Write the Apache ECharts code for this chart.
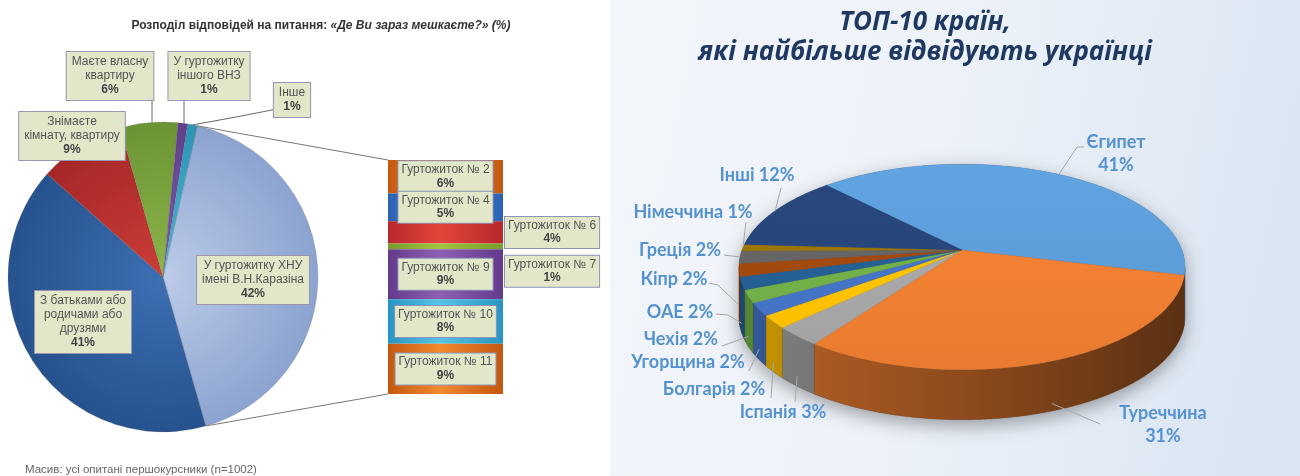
<!DOCTYPE html>
<html><head><meta charset="utf-8">
<script src="https://cdn.jsdelivr.net/npm/echarts@6/dist/echarts.min.js"></script>
<style>html,body{margin:0;padding:0;background:#fff}#c{width:1300px;height:476px}</style>
</head><body><div id="c"></div>
<script>
// ---------- data ----------
const resNames = ['У гуртожитку ХНУ\nімені В.Н.Каразіна', 'З батьками або\nродичами або\nдрузями', 'Знімаєте\nкімнату, квартиру', 'Маєте власну\nквартиру', 'У гуртожитку\nіншого ВНЗ', 'Інше'];
const resValues = [42, 41, 9, 6, 1, 1];
const dormNames = ['Гуртожиток № 2', 'Гуртожиток № 4', 'Гуртожиток № 6', 'Гуртожиток № 7', 'Гуртожиток № 9', 'Гуртожиток № 10', 'Гуртожиток № 11'];
const dormValues = [6, 5, 4, 1, 9, 8, 9];
const countries = ['Єгипет', 'Туреччина', 'Іспанія', 'Болгарія', 'Угорщина', 'Чехія', 'ОАЕ', 'Кіпр', 'Греція', 'Німеччина', 'Інші'];
const countryValues = [41, 31, 3, 2, 2, 2, 2, 2, 2, 1, 12];

// ---------- styles / layout ----------
const resColors = [['#bccbe8', '#8ca3d0'], ['#3d6fb3', '#26528e'], ['#cc3d36', '#a52729'], ['#8db54c', '#6a9433'], ['#8159ab', '#603f88'], ['#4db8d6', '#2c93b3']];
const resLabelAt = [[253, 280], [83, 322], [72, 136], [110, 76], [209, 76], [292, 100]];
const dormColors = [['#c4580f', '#f28a2e'], ['#2a62b3', '#4d8dd8'], ['#b8272a', '#e2463c'], ['#769c2c', '#a2c444'], ['#643a8c', '#8d60b4'], ['#2894c2', '#55c3e4'], ['#c4580f', '#f28a2e']];
const countryColors = ['#5b9bd5', '#ed7d31', '#a5a5a5', '#ffc000', '#4472c4', '#70ad47', '#255e91', '#9e480e', '#636363', '#997300', '#264478'];
const cLabelPos = [[1116, 154], [1163, 425], [783, 412], [714, 389], [688, 362], [681, 339], [680, 312], [674, 279], [680, 250], [693, 212], [757, 175]];
const cLeadFrom = [[[1084, 147], [1077, 147]], [[1100, 424]], [[795, 402]], [[771, 398]], [[749, 371]], [[722, 346]], [[716, 314], [728, 315]], [[709, 283], [718, 285]], [[724, 255], [732, 256]], [[746, 222]], [[781, 188]]];
const cLeadDrop = [0, 0.85, 0.8, 0.8, 0.8, 0.8, 0.8, 0.7, 0, 0, 0];

const PIE_C = [163, 277], PIE_R = 155, PIE_START = 77.2;
const BAR_GRID = { left: 388, top: 160, width: 115, height: 234 };
const K = 0.165;             // perspective factor
const START_DEG = -133.6;    // rotation of first slice
const DEPTH = 0.5;           // side depth (y data units)

const chart = echarts.init(document.getElementById('c'));
const sum = a => a.reduce((s, v) => s + v, 0);
const shade = (hex, f) => {
  const n = parseInt(hex.slice(1), 16);
  const r = Math.min(255, Math.round(((n >> 16) & 255) * f)), g = Math.min(255, Math.round(((n >> 8) & 255) * f)), b = Math.min(255, Math.round((n & 255) * f));
  return 'rgb(' + r + ',' + g + ',' + b + ')';
};

// connectors for bar-of-pie
const resTotal = sum(resValues);
const t0 = (90 - PIE_START) * Math.PI / 180;
const t1 = t0 + resValues[0] / resTotal * 2 * Math.PI;
const rim = t => [PIE_C[0] + PIE_R * Math.sin(t), PIE_C[1] - PIE_R * Math.cos(t)];
const rimYatX = x => PIE_C[1] - Math.sqrt(PIE_R * PIE_R - (x - PIE_C[0]) * (x - PIE_C[0]));
const pA = rim(t0), pB = rim(t1);
const resLines = [null, null, null,
  [[152, rimYatX(152)], [152, 112], [152, 101]],
  [[184, rimYatX(184)], [184, 112], [184, 101]],
  [rim(t0 - 0.03), [236, 117], [277, 109]]];

const labelBox = { backgroundColor: '#e1e7c8', borderColor: '#9b93b0', borderWidth: 1, padding: [3, 5] };
const richL = {
  t: { color: '#555', fontSize: 12, lineHeight: 14, fontFamily: 'Liberation Sans', align: 'center' },
  p: { color: '#444', fontSize: 12, lineHeight: 14, fontWeight: 'bold', fontFamily: 'Liberation Sans', align: 'center' }
};

const series = [];
series.push({
  type: 'pie', center: PIE_C, radius: PIE_R, startAngle: PIE_START, clockwise: true,
  avoidLabelOverlap: false, silent: true, z: 3,
  data: resValues.map((v, i) => ({
    name: resNames[i], value: v,
    itemStyle: { color: { type: 'radial', x: PIE_C[0], y: PIE_C[1], r: PIE_R, global: true, colorStops: [{ offset: 0, color: resColors[i][0] }, { offset: 1, color: resColors[i][1] }] } },
    labelLine: { show: !!resLines[i] }
  })),
  itemStyle: { borderColor: 'rgba(90,90,90,0.35)', borderWidth: 0.6 },
  label: Object.assign({ show: true, position: 'outside', formatter: p => '{t|' + p.name + '}\n{p|' + p.value + '%}', rich: richL }, labelBox),
  labelLine: { lineStyle: { color: '#666', width: 1 } },
  labelLayout: p => {
    const c = resLabelAt[p.dataIndex];
    const o = { x: c[0], y: c[1], align: 'center', verticalAlign: 'middle' };
    if (resLines[p.dataIndex]) o.labelLinePoints = resLines[p.dataIndex];
    return o;
  }
});

dormValues.forEach((v, i) => {
  const lab = Object.assign({
    show: true, position: 'inside',
    formatter: p => '{t|' + p.seriesName + '}\n{p|' + p.value + '%}',
    rich: {
      t: { color: '#555', fontSize: 12, lineHeight: 13, fontFamily: 'Liberation Sans', align: 'center' },
      p: { color: '#444', fontSize: 12, lineHeight: 14, fontWeight: 'bold', fontFamily: 'Liberation Sans', align: 'center' }
    }
  }, labelBox, { padding: [2, 3], borderColor: '#8f93b8' });
  if (i === 2) { lab.position = 'right'; lab.distance = 2; }
  if (i === 3) { lab.position = 'right'; lab.distance = 2; lab.offset = [0, 25]; }
  series.push({
    type: 'bar', name: dormNames[i], stack: 'd', xAxisIndex: 0, yAxisIndex: 0, barWidth: '100%', silent: true,
    data: [v],
    itemStyle: { color: { type: 'linear', x: 0, y: 0, x2: 1, y2: 0, colorStops: [{ offset: 0, color: dormColors[i][0] }, { offset: 0.45, color: dormColors[i][1] }, { offset: 1, color: dormColors[i][0] }] } },
    label: lab
  });
});

// 3D-looking pie (custom series)
const cTotal = sum(countryValues);
const phiL = Math.asin(K), phiR = Math.PI - Math.asin(K);
series.push({
  type: 'custom', xAxisIndex: 1, yAxisIndex: 1, silent: true, z: 4,
  data: countryValues.map((v, i) => [i, v]),
  renderItem: (params, api) => {
    const i = params.dataIndex;
    let before = 0; for (let j = 0; j < i; j++) before += countryValues[j];
    const a0 = START_DEG * Math.PI / 180 + before / cTotal * 2 * Math.PI;
    const a1 = a0 + api.value(1) / cTotal * 2 * Math.PI;
    const P = phi => { const u = Math.cos(phi), v = Math.sin(phi), d = 1 - K * v; return api.coord([u / d, v / d]); };
    const C = api.coord([0, 0]);
    const dep = Math.abs(api.size([0, DEPTH])[1]);
    const xl = api.coord([-1.02, 0])[0], xr = api.coord([1.02, 0])[0];
    const yt = P(-Math.PI / 2)[1], yb = P(Math.PI / 2)[1];
    const children = [];
    if (i === 0) {
      const pts = [];
      for (let f = phiL; f <= phiR + 1e-9; f += 0.02) { const q = P(f); pts.push([q[0], q[1] + dep]); }
      for (let f = phiR; f <= phiL + 2 * Math.PI; f += 0.02) pts.push(P(f));
      children.push({ type: 'polygon', shape: { points: pts }, style: { fill: '#7a7a7a', shadowBlur: 18, shadowColor: 'rgba(0,0,0,0.35)', shadowOffsetY: 6 } });
    }
    const col = countryColors[i];
    // side wall
    const s0 = Math.max(a0, phiL), s1 = Math.min(a1, phiR);
    if (s1 > s0) {
      const top = [];
      const n = Math.max(2, Math.ceil((s1 - s0) / 0.01));
      for (let k = 0; k <= n; k++) top.push(P(s0 + (s1 - s0) * k / n));
      const pts = top.concat(top.slice().reverse().map(q => [q[0], q[1] + dep]));
      children.push({
        type: 'polygon', shape: { points: pts },
        style: { fill: { type: 'linear', x: xl, y: 0, x2: xr, y2: 0, global: true, colorStops: [{ offset: 0, color: shade(col, 0.78) }, { offset: 0.5, color: shade(col, 0.6) }, { offset: 1, color: shade(col, 0.38) }] }, stroke: shade(col, 0.5), lineWidth: 0.3 }
      });
    }
    // top face
    const face = [C];
    const n2 = Math.max(2, Math.ceil((a1 - a0) / 0.01));
    for (let k = 0; k <= n2; k++) face.push(P(a0 + (a1 - a0) * k / n2));
    children.push({
      type: 'polygon', shape: { points: face },
      style: { fill: { type: 'linear', x: 0, y: yt, x2: 0, y2: yb, global: true, colorStops: [{ offset: 0, color: shade(col, 1.06) }, { offset: 1, color: shade(col, 0.98) }] }, stroke: shade(col, 0.9), lineWidth: 0.3 }
    });
    // leader + label
    const mid = (a0 + a1) / 2;
    const tgt = P(mid); tgt[1] += dep * cLeadDrop[i];
    children.push({ type: 'polyline', z2: 20, shape: { points: cLeadFrom[i].concat([tgt]) }, style: { stroke: '#a6a6a6', lineWidth: 1, fill: null } });
    const txt = i < 2 ? countries[i] + '\n' + api.value(1) + '%' : countries[i] + ' ' + api.value(1) + '%';
    children.push({ type: 'text', z2: 21, style: { text: txt, x: cLabelPos[i][0], y: cLabelPos[i][1], fill: '#5592d0', font: 'bold 18px Lato', align: 'center', verticalAlign: 'middle', lineHeight: 23 } });
    return { type: 'group', children };
  }
});

chart.setOption({
  animation: false,
  title: [
    { text: '{b|Розподіл відповідей на питання: }{i|«Де Ви зараз мешкаєте?» (%)}', left: 316, top: 15, textAlign: 'center',
      textStyle: { rich: { b: { fontSize: 12, fontWeight: 'bold', color: '#333', fontFamily: 'Liberation Sans' }, i: { fontSize: 12, fontWeight: 'bold', fontStyle: 'italic', color: '#333', fontFamily: 'Liberation Sans' } } } },
    { text: 'Масив: усі опитані першокурсники (n=1002)', left: 20, top: 459, textStyle: { fontSize: 11.5, fontWeight: 'normal', color: '#666', fontFamily: 'Liberation Sans' } },
    { text: 'ТОП-10 країн,\nякі найбільше відвідують українці', left: 920, top: 3, textAlign: 'center',
      textStyle: { fontFamily: 'Open Sans', fontStyle: 'italic', fontWeight: 'bold', fontSize: 26, lineHeight: 30, color: '#1f3963' } }
  ],
  graphic: [
    { type: 'rect', z: -10, shape: { x: 610, y: 0, width: 690, height: 476 },
      style: { fill: { type: 'linear', x: 0, y: 0, x2: 1, y2: 0.3, colorStops: [{ offset: 0, color: '#f3f6fb' }, { offset: 0.5, color: '#edf2f9' }, { offset: 1, color: '#dbe6f3' }] } } },
    { type: 'line', z: 5, shape: { x1: pA[0], y1: pA[1], x2: BAR_GRID.left, y2: BAR_GRID.top }, style: { stroke: '#777', lineWidth: 1 } },
    { type: 'line', z: 5, shape: { x1: pB[0], y1: pB[1], x2: BAR_GRID.left, y2: BAR_GRID.top + BAR_GRID.height }, style: { stroke: '#777', lineWidth: 1 } }
  ],
  grid: [
    Object.assign({ containLabel: false }, BAR_GRID),
    { left: 742, top: 100, width: 440, height: 300 }
  ],
  xAxis: [
    { type: 'category', gridIndex: 0, data: [''], show: false },
    { type: 'value', gridIndex: 1, min: -1, max: 1, show: false }
  ],
  yAxis: [
    { type: 'value', gridIndex: 0, min: 0, max: sum(dormValues), inverse: true, show: false },
    { type: 'value', gridIndex: 1, min: -1.5, max: 1.5, inverse: true, show: false }
  ],
  series
});
</script></body></html>
